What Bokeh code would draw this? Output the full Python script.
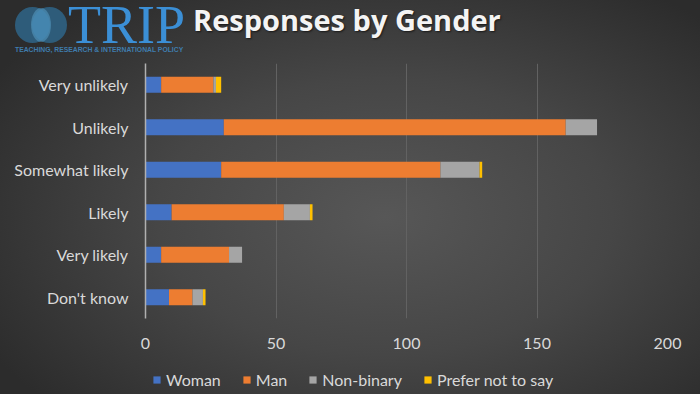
from bokeh.plotting import figure
from bokeh.layouts import column
from bokeh.models import (Range1d, FactorRange, FixedTicker, Legend, LegendItem,
                          Div, GlobalInlineStyleSheet)
from bokeh.embed import file_html
from bokeh.resources import INLINE

# ---- data ----
categories = ["Very unlikely", "Unlikely", "Somewhat likely", "Likely", "Very likely", "Don't know"]
woman = [6, 30, 29, 10, 6, 9]
man = [20, 131, 84, 43, 26, 9]
nonbinary = [1, 12, 15, 10, 5, 4]
prefer_not = [2, 0, 1, 1, 0, 1]
series = ["Woman", "Man", "Non-binary", "Prefer not to say"]
x_ticks = [0, 50, 100, 150, 200]
colors = ["#4472c4", "#ed7d31", "#a5a5a5", "#ffc000"]

title_text = "Responses by Gender"
logo_text = "TRIP"
logo_sub = "TEACHING, RESEARCH &amp; INTERNATIONAL POLICY"

keys = ["woman", "man", "nonbinary", "prefer"]
source = dict(cat=categories, woman=woman, man=man, nonbinary=nonbinary, prefer=prefer_not)

TEXT = "#d9d9d9"
FONT = "Lato"
FS = "16px"
W = 700
HEAD_H = 58
CHART_H = 294
FOOT_H = 394 - HEAD_H - CHART_H

# ---- header: logo + title ----
header_html = f"""
<div style="position:relative;width:{W}px;height:{HEAD_H}px;overflow:hidden;">
  <div style="position:absolute;left:15px;top:7px;width:35px;height:36px;border-radius:50%;background:rgba(47,111,153,0.72);"></div>
  <div style="position:absolute;left:32px;top:7px;width:35px;height:36px;border-radius:50%;background:rgba(47,111,153,0.72);"></div>
  <div style="position:absolute;left:31px;top:8px;width:20px;height:34px;border-radius:50%;background:rgba(90,162,204,0.5);"></div>
  <span style="position:absolute;left:68px;top:5px;font-family:'Liberation Serif';font-size:54px;line-height:40px;color:#3b8fd6;white-space:nowrap;">{logo_text}</span>
  <span style="position:absolute;left:15px;top:47px;font-family:'Liberation Sans';font-weight:bold;font-size:6.8px;line-height:6.8px;color:#3f7cad;white-space:nowrap;">{logo_sub}</span>
  <span style="position:absolute;left:193px;top:5px;font-family:'Open Sans';font-weight:bold;font-size:29px;line-height:29px;color:#f4f4f4;white-space:nowrap;text-shadow:1px 1px 2px rgba(0,0,0,0.6);">{title_text}</span>
</div>
"""
head = Div(text=header_html, width=W, height=HEAD_H, styles={"margin": "0", "padding": "0"})

# ---- chart ----
p = figure(width=W, height=CHART_H, output_backend="svg", toolbar_location=None,
           y_range=FactorRange(factors=categories[::-1]), x_range=Range1d(0, 200),
           min_border_left=145, min_border_right=33, min_border_top=5, min_border_bottom=34)

p.background_fill_alpha = 0
p.border_fill_alpha = 0
p.outline_line_color = None

renderers = p.hbar_stack(keys, y="cat", height=0.38, color=colors, source=source, line_width=0)

p.xaxis.ticker = FixedTicker(ticks=x_ticks)
p.xaxis.axis_line_color = None
p.xaxis.major_tick_line_color = None
p.xaxis.minor_tick_line_color = None
p.xaxis.major_label_standoff = 13
p.xaxis.major_label_text_color = TEXT
p.xaxis.major_label_text_font = FONT
p.xaxis.major_label_text_font_size = FS

p.yaxis.axis_line_color = "#b0b0b0"
p.yaxis.axis_line_width = 1.5
p.yaxis.major_tick_line_color = None
p.yaxis.minor_tick_line_color = None
p.yaxis.major_label_standoff = 11
p.yaxis.major_label_text_color = TEXT
p.yaxis.major_label_text_font = FONT
p.yaxis.major_label_text_font_size = FS

p.xgrid.grid_line_color = "#626262"
p.xgrid.grid_line_width = 1
p.ygrid.visible = False

# ---- footer: legend for the same stacked series (hidden copies supply the swatches) ----
foot = figure(width=W, height=FOOT_H, output_backend="svg", toolbar_location=None,
              x_range=Range1d(0, 200), y_range=FactorRange(factors=categories[::-1]),
              x_axis_type=None, y_axis_type=None,
              min_border_left=145, min_border_right=33, min_border_top=0, min_border_bottom=0)
foot.grid.visible = False
foot.background_fill_alpha = 0
foot.border_fill_alpha = 0
foot.outline_line_color = None

swatches = foot.hbar_stack(keys, y="cat", height=0.38, color=colors, source=source, line_width=0)
for r in swatches:
    r.visible = False
items = [LegendItem(label=s, renderers=[r]) for s, r in zip(series, swatches)]
legend = Legend(items=items, orientation="horizontal", location=(7, 5),
                background_fill_alpha=0, border_line_alpha=0, padding=0, margin=0,
                spacing=21, glyph_width=9, glyph_height=9, label_standoff=5,
                label_height=17, label_text_font=FONT, label_text_font_size=FS,
                label_text_color=TEXT, inactive_fill_alpha=0)
foot.add_layout(legend, "center")

layout = column(head, p, foot, spacing=0)
layout.stylesheets = [GlobalInlineStyleSheet(css="""
html { min-height: 100%; background: radial-gradient(ellipse 65% 70% at 55% 55%, #575757 0%, #464646 50%, #2c2c2c 100%); }
body { background: transparent; }
""")]

open("out.html", "w").write(file_html(layout, INLINE))
